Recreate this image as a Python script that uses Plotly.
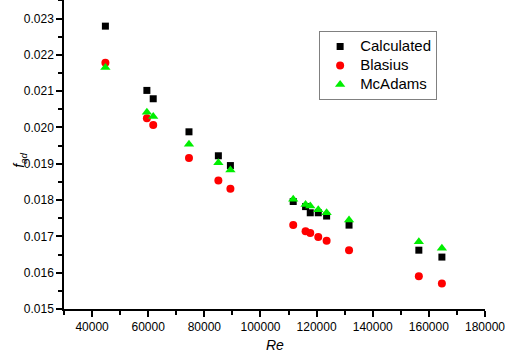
import plotly.graph_objects as go

re_calc = [44750, 59530, 61790, 74530, 85000, 89290, 111670, 116070, 117740, 120600, 123570, 131560, 156430, 164640]
f_calc = [0.02279, 0.02102, 0.02079, 0.01988, 0.01922, 0.01895, 0.01796, 0.01782, 0.01765, 0.01765, 0.01756, 0.01731, 0.01662, 0.01643]
f_blasius = [0.02178, 0.02025, 0.02007, 0.01916, 0.01854, 0.01831, 0.01731, 0.01714, 0.01709, 0.01698, 0.01688, 0.01662, 0.01590, 0.01570]
f_mcadams = [0.02165, 0.02042, 0.02030, 0.01954, 0.01903, 0.01883, 0.01802, 0.01788, 0.01784, 0.01773, 0.01765, 0.01745, 0.01685, 0.01667]

series_names = ["Calculated", "Blasius", "McAdams"]
x_ticks = [40000, 60000, 80000, 100000, 120000, 140000, 160000, 180000]
y_ticks = [0.015, 0.016, 0.017, 0.018, 0.019, 0.020, 0.021, 0.022, 0.023]

FONT = "Arial, Liberation Sans, sans-serif"


def legend_label(name):
    return f'<span style="font-size:15px">{name}</span>'


fig = go.Figure()
fig.add_trace(go.Scatter(x=re_calc, y=f_calc, mode="markers", name=legend_label(series_names[0]),
                         marker=dict(symbol="square", size=7, color="black")))
fig.add_trace(go.Scatter(x=re_calc, y=f_blasius, mode="markers", name=legend_label(series_names[1]),
                         marker=dict(symbol="circle", size=8, color="#ff0000")))
fig.add_trace(go.Scatter(x=re_calc, y=f_mcadams, mode="markers", name=legend_label(series_names[2]),
                         marker=dict(symbol="triangle-up", size=9, color="#00ee00")))

fig.update_layout(
    width=505, height=354,
    margin=dict(l=64, r=20, t=0, b=45),
    plot_bgcolor="white", paper_bgcolor="white",
    font=dict(family=FONT, size=12, color="black"),
    showlegend=True,
    legend=dict(x=0.606, y=0.9, xanchor="left", yanchor="top",
                bgcolor="white", bordercolor="#808080", borderwidth=1,
                font=dict(size=12, family=FONT), tracegroupgap=0,
                entrywidth=78, entrywidthmode="pixels"),
    xaxis=dict(range=[30000, 180001], tickvals=x_ticks, ticktext=[str(v) for v in x_ticks],
               ticklabeloverflow="allow",
               showgrid=False, zeroline=False, showline=True, linecolor="black", linewidth=1.5,
               ticks="outside", ticklen=6, tickwidth=1.5, tickcolor="black",
               minor=dict(dtick=10000, tick0=30000, ticks="outside", ticklen=4, tickwidth=1.5, tickcolor="black")),
    yaxis=dict(range=[0.015, 0.02351], tickvals=y_ticks, ticktext=[f"{v:.3f}" for v in y_ticks],
               showgrid=False, zeroline=False, showline=True, linecolor="black", linewidth=1.5,
               ticks="outside", ticklen=6, tickwidth=1.5, tickcolor="black",
               minor=dict(dtick=0.0005, tick0=0.015, ticks="outside", ticklen=4, tickwidth=1.5, tickcolor="black")),
    annotations=[
        dict(text="<i>Re</i>", x=0.501, y=-0.1165, xref="paper", yref="paper", xanchor="center", yanchor="middle",
             showarrow=False, font=dict(size=14, family=FONT)),
        dict(text="<i>f</i><sub><i>ad</i></sub>", x=-0.105, y=0.482, xref="paper", yref="paper",
             xanchor="center", yanchor="middle", textangle=-90, showarrow=False, font=dict(size=14, family=FONT)),
    ],
)

fig.write_html("out.html", config={"displayModeBar": False},
               post_script="document.body.style.margin='0';")
